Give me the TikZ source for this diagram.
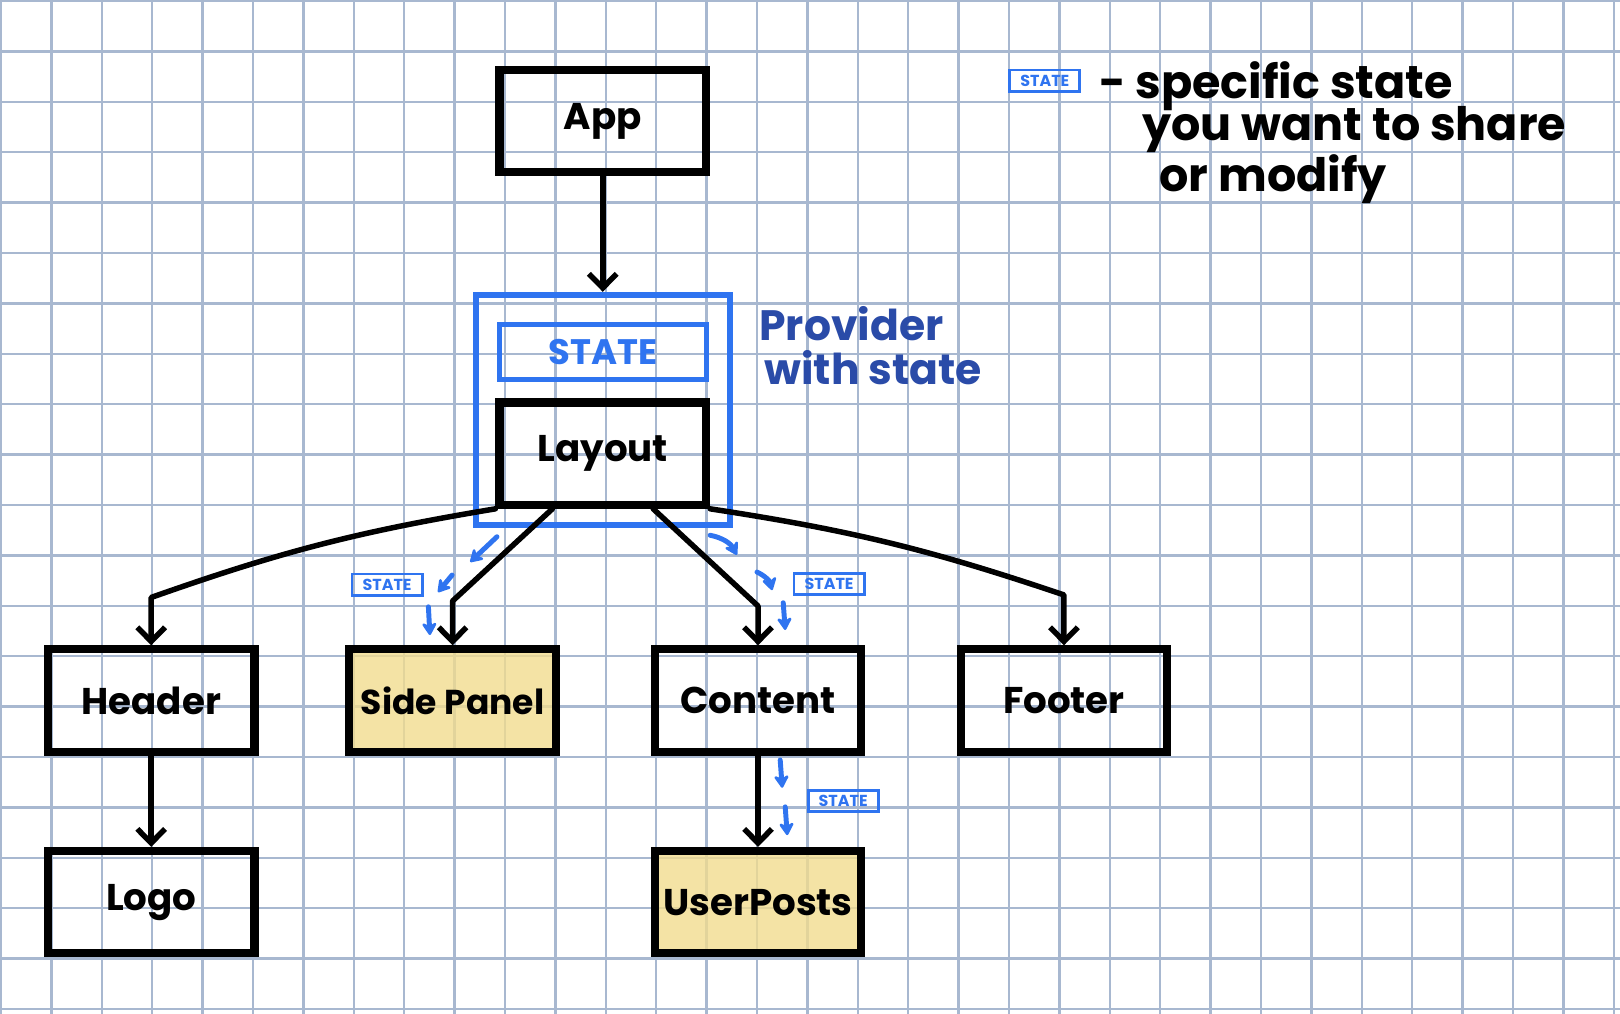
\documentclass[tikz,border=0pt]{standalone}
\usepackage{fontspec}
\setmainfont{Poppins}
\usepackage{xcolor}
\usepackage{tikz}
\usetikzlibrary{arrows.meta, positioning, calc}
\definecolor{gridblue}{HTML}{A8B8D0}
\definecolor{stateblue}{HTML}{2F74F0}
\definecolor{provblue}{HTML}{2A4BA8}
\definecolor{padyellow}{HTML}{F1DC8E}
\tikzstyle{gridline} = [gridblue, line width=1.4pt]
\tikzstyle{comp} = [rectangle, minimum width=4.1cm, minimum height=2.03cm, text centered, draw=black, line width=4.6pt, font=\fontsize{21}{24}\selectfont\bfseries]
\tikzstyle{shared} = [comp, fill=padyellow, fill opacity=0.8, text opacity=1]
\tikzstyle{provider} = [rectangle, draw=stateblue, line width=3.4pt, minimum width=5.04cm, minimum height=4.56cm]
\tikzstyle{statetag} = [rectangle, draw=stateblue, line width=1.6pt, text=stateblue, minimum width=1.39cm, minimum height=0.42cm, inner sep=1pt, font=\fontsize{9}{9}\selectfont\bfseries]
\tikzstyle{handtext} = [anchor=base west, inner sep=0pt, font=\fontsize{26}{22}\selectfont\bfseries]
\tikzstyle{arrow} = [line width=3.1pt, line cap=round, line join=round, ->, >={Straight Barb[length=0.28cm, width=0.55cm]}]
\tikzstyle{statearrow} = [stateblue, line width=2.8pt, line cap=round, -{Stealth[round, length=0.3cm, width=0.36cm]}]

\begin{document}
\begin{tikzpicture}[node distance=4cm]
        \useasboundingbox (0,0) rectangle (32.143,-20.119);
        \draw [gridline, xshift=0.02cm, yshift=-0.02cm] (-1,-21) grid (33,1);

        \node (app) [comp] at (11.96,-2.4) {App};
        \node (provider) [provider, below of=app, yshift=-1.73cm] {};
        \node (layout) [comp, below of=app, yshift=-2.6cm] {Layout};
        \node (provstate) [statetag, above of=layout, yshift=-1.98cm, minimum width=4.1cm, minimum height=1.1cm, line width=2.8pt, font=\fontsize{20}{22}\selectfont\bfseries] {STATE};
        \node (provlabel) [handtext, text=provblue, font=\fontsize{24}{22}\selectfont\bfseries] at (15.06,-6.76) {Provider};
        \node (provlabel2) [handtext, text=provblue, font=\fontsize{24}{22}\selectfont\bfseries] at (15.16,-7.62) {with state};

        \node (header) [comp] at (3.0,-13.9) {Header};
        \node (side) [shared, right of=header, xshift=1.98cm, font=\fontsize{19.5}{22}\selectfont\bfseries] {Side Panel};
        \node (content) [comp, right of=side, xshift=2.06cm] {Content};
        \node (footer) [comp, right of=content, xshift=2.07cm] {Footer};
        \node (logo) [comp, below of=header] {Logo};
        \node (posts) [shared, below of=content] {UserPosts};

        \node (legtag) [statetag] at (20.73,-1.6) {STATE};
        \node (leg1) [handtext] at (21.8,-1.95) {- specific state};
        \node (leg2) [handtext] at (22.66,-2.78) {you want to share};
        \node (leg3) [handtext] at (23.0,-3.8) {or modify};

        \node (sidetag) [statetag] at (7.68,-11.6) {STATE};
        \node (contenttag) [statetag] at (16.45,-11.59) {STATE};
        \node (poststag) [statetag] at (16.73,-15.89) {STATE};

        \draw [arrow] (app) -- (provider);
        \draw [arrow] (layout.south west) to[bend right=5] ($(header.north)+(0,0.95)$) -- (header.north);
        \draw [arrow] ([xshift=-1cm]layout.south) -- ($(side.north)+(0,0.88)$) -- (side.north);
        \draw [arrow] ([xshift=1cm]layout.south) -- ($(content.north)+(0,0.78)$) -- (content.north);
        \draw [arrow] (layout.south east) to[bend left=5] ($(footer.north)+(0,1)$) -- (footer.north);
        \draw [arrow] (header) -- (logo);
        \draw [arrow] (content) -- (posts);

        \draw [statearrow] (9.86,-10.65) -- (9.33,-11.15);
        \draw [statearrow] (8.97,-11.41) -- (8.69,-11.75);
        \draw [statearrow] (8.5,-12.04) -- (8.53,-12.6);
        \draw [statearrow] (14.09,-10.62) to[bend left=25] (14.62,-11.01);
        \draw [statearrow] (15.02,-11.35) to[bend left=25] (15.32,-11.71);
        \draw [statearrow] (15.54,-11.96) -- (15.58,-12.5);
        \draw [statearrow] (15.48,-15.08) -- (15.52,-15.63);
        \draw [statearrow] (15.58,-16.01) -- (15.62,-16.57);
    \end{tikzpicture}
\end{document}
